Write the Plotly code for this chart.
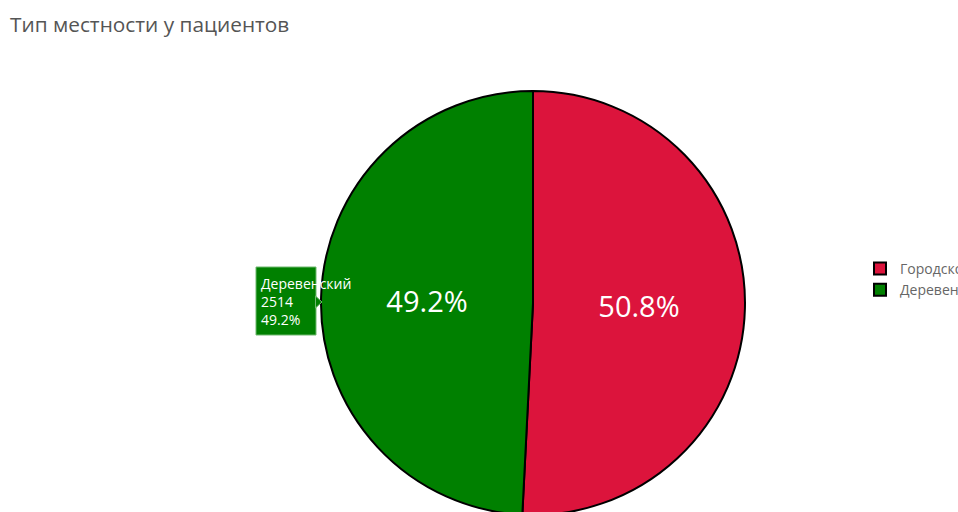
import plotly.graph_objects as go

categories = ["Городской", "Деревенский"]
counts = [2596, 2514]
colors = ["#DC143C", "#008000"]
title_text = "Тип местности у пациентов"

W, H = 1010, 530
cx, cy, r = 533, 303, 212

total = sum(counts)
pct = counts[1] / total * 100


def px(x):
    return x / W


def py(y):
    return 1 - y / H


fig = go.Figure(go.Pie(
    labels=categories, values=counts,
    marker=dict(colors=colors, line=dict(color="black", width=2)),
    direction="clockwise", sort=False, rotation=0,
    textinfo="percent", textposition="inside",
    insidetextfont=dict(color="white", size=29, family="Open Sans"),
    domain=dict(x=[px(cx - r), px(cx + r)], y=[py(cy + r), py(cy - r)]),
))

# hover-style label box
fig.add_shape(type="rect", xref="paper", yref="paper",
              x0=px(256), x1=px(316), y0=py(335), y1=py(267),
              fillcolor="#008000", line=dict(color="#6fb86f", width=1), layer="above")
fig.add_shape(type="path", xref="paper", yref="paper",
              path=f"M {px(315.5)},{py(296)} L {px(322)},{py(302)} L {px(315.5)},{py(308)} Z",
              fillcolor="#008000", line=dict(color="#6fb86f", width=1), layer="above")
fig.add_annotation(
    xref="paper", yref="paper", x=px(259), y=py(301),
    xanchor="left", yanchor="middle", showarrow=False, align="left",
    text=f"{categories[1]}<br>{counts[1]}<br>{pct:.1f}%",
    font=dict(color="white", size=14, family="Open Sans"),
)

fig.update_layout(
    width=W, height=H,
    margin=dict(l=0, r=0, t=0, b=0),
    paper_bgcolor="white", plot_bgcolor="white",
    title=dict(text=title_text, x=px(10), xanchor="left", y=py(25), yanchor="middle",
               font=dict(size=20.8, color="#555555", family="Open Sans")),
    legend=dict(x=px(860), y=py(253), xanchor="left", yanchor="top",
                font=dict(size=14, color="#666666", family="Open Sans")),
    font=dict(family="Open Sans"),
)

fig.write_html("out.html", config={"displayModeBar": False},
               post_script="document.body.style.margin='0';document.body.style.overflow='hidden';")
